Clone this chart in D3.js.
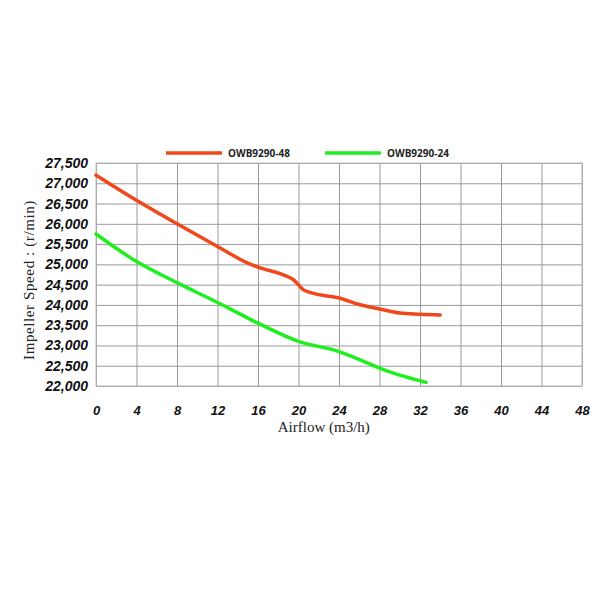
<!DOCTYPE html>
<html>
<head>
<meta charset="utf-8">
<script src="https://cdn.jsdelivr.net/npm/d3@7"></script>
<style>
  body { margin: 0; background: #fff; }
</style>
</head>
<body>
<svg id="chart" width="600" height="600"></svg>
<script>
// series names
var seriesNames = ['OWB9290-48', 'OWB9290-24'];

// airflow (m3/h) and impeller speed (r/min)
var airflow48 = [0, 4, 8, 12, 15, 16, 18.5, 19.5, 20.5, 21.4, 24, 26, 28, 30, 32, 34];
var speed48   = [27200, 26580, 26000, 25440, 25030, 24930, 24740, 24620, 24370, 24290, 24170, 24010, 23900, 23800, 23770, 23750];

var airflow24 = [0, 4, 8, 12, 16, 20, 24, 26.8, 28, 32.6];
var speed24   = [25750, 25070, 24550, 24060, 23550, 23100, 22850, 22570, 22440, 22090];

var xTicks = [0, 4, 8, 12, 16, 20, 24, 28, 32, 36, 40, 44, 48];
var yTicks = [22000, 22500, 23000, 23500, 24000, 24500, 25000, 25500, 26000, 26500, 27000, 27500];

var svg = d3.select('#chart'),
    margin = {top: 163, right: 18, bottom: 214, left: 96},
    width = +svg.attr('width') - margin.left - margin.right,
    height = +svg.attr('height') - margin.top - margin.bottom,
    g = svg.append('g')
          .attr('transform', `translate(${margin.left}, ${margin.top})`);

var x = d3.scaleLinear().domain([0, 48]).range([0, width]),
    y = d3.scaleLinear().domain([22000, 27500]).range([height, 0]);

var tickFont = '"Liberation Sans", Arial, sans-serif';

// grid
g.append('g')
  .attr('transform', `translate(0, ${height})`)
  .call(d3.axisBottom(x).tickValues(xTicks).tickSize(-height).tickFormat(''))
  .call(a => a.select('.domain').remove())
  .selectAll('line').attr('stroke', '#9a9a9a');

g.append('g')
  .call(d3.axisLeft(y).tickValues(yTicks).tickSize(-width).tickFormat(''))
  .call(a => a.select('.domain').remove())
  .selectAll('line').attr('stroke', '#9a9a9a');

g.append('rect')
  .attr('width', width)
  .attr('height', height)
  .attr('fill', 'none')
  .attr('stroke', '#bbb');

// tick labels
g.append('g')
  .attr('transform', `translate(0, ${height + 17})`)
  .call(d3.axisBottom(x).tickValues(xTicks).tickSize(0).tickFormat(d3.format('d')))
  .call(a => a.select('.domain').remove())
  .selectAll('text')
    .attr('font-family', tickFont)
    .attr('font-style', 'italic')
    .attr('font-weight', 'bold')
    .attr('font-size', 13)
    .attr('fill', '#111');

g.append('g')
  .attr('transform', 'translate(-5, 0)')
  .call(d3.axisLeft(y).tickValues(yTicks).tickSize(0).tickFormat(d3.format(',')))
  .call(a => a.select('.domain').remove())
  .selectAll('text')
    .attr('font-family', tickFont)
    .attr('font-style', 'italic')
    .attr('font-weight', 'bold')
    .attr('font-size', 14)
    .attr('fill', '#111');

// axis titles
svg.append('text')
  .attr('x', margin.left + x(22.5))
  .attr('y', 432)
  .attr('text-anchor', 'middle')
  .attr('font-family', '"Liberation Serif", serif')
  .attr('font-size', 15)
  .attr('fill', '#222')
  .text('Airflow (m3/h)');

svg.append('text')
  .attr('transform', 'translate(34, 280) rotate(-90)')
  .attr('text-anchor', 'middle')
  .attr('font-family', '"Liberation Serif", serif')
  .attr('font-size', 15)
  .attr('letter-spacing', 0.6)
  .attr('fill', '#222')
  .text('Impeller Speed : (r/min)');

// lines
var line = d3.line()
  .x(d => x(d[0]))
  .y(d => y(d[1]))
  .curve(d3.curveMonotoneX);

var series = [
  {name: seriesNames[0], color: '#f0481a', data: d3.zip(airflow48, speed48)},
  {name: seriesNames[1], color: '#1fee1f', data: d3.zip(airflow24, speed24)}
];

g.selectAll('.series')
  .data(series)
  .enter().append('path')
    .attr('fill', 'none')
    .attr('stroke', d => d.color)
    .attr('stroke-width', 3.5)
    .attr('stroke-linecap', 'round')
    .attr('stroke-linejoin', 'round')
    .attr('d', d => line(d.data));

// legend
var legendX = [166, 325];
var legend = svg.selectAll('.legend')
  .data(series)
  .enter().append('g')
    .attr('transform', (d, i) => `translate(${legendX[i]}, 153)`);

legend.append('line')
  .attr('x1', 0).attr('x2', 56)
  .attr('stroke', d => d.color)
  .attr('stroke-width', 3.5);

legend.append('text')
  .attr('x', 62)
  .attr('y', 4)
  .attr('font-family', '"Open Sans", sans-serif')
  .attr('font-weight', 'bold')
  .attr('font-size', 10)
  .attr('fill', '#222')
  .text(d => d.name);
</script>
</body>
</html>
